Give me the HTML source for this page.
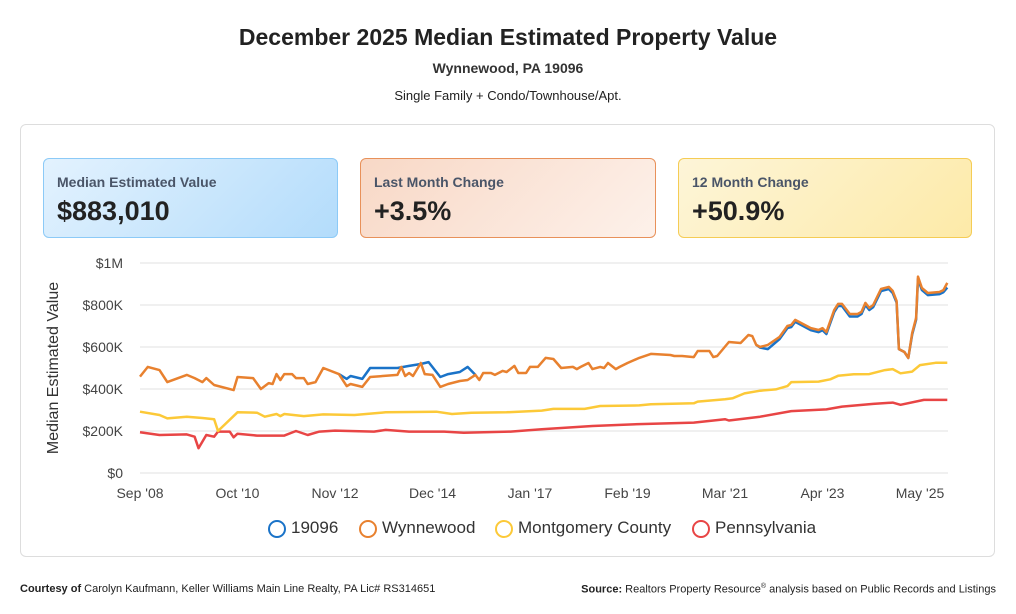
<!DOCTYPE html>
<html><head><meta charset="utf-8"><style>
body{margin:0;width:1016px;height:614px;background:#fff;font-family:"Liberation Sans",sans-serif;position:relative;overflow:hidden;color:#222}
.abs{position:absolute}
.card{position:absolute;top:158px;height:80px;border-radius:6px;box-sizing:border-box}
.card .lbl{position:absolute;left:13px;top:15px;font-size:14px;font-weight:bold;color:#4a5568}
.card .val{position:absolute;left:13px;top:37px;font-size:27px;font-weight:bold;color:#222}
</style></head><body>
<div class="abs" style="left:0;width:1016px;top:24px;text-align:center;font-size:23px;font-weight:bold;color:#222">December 2025 Median Estimated Property Value</div>
<div class="abs" style="left:0;width:1016px;top:60px;text-align:center;font-size:14px;font-weight:bold;color:#333">Wynnewood, PA 19096</div>
<div class="abs" style="left:0;width:1016px;top:88px;text-align:center;font-size:13px;color:#222">Single Family + Condo/Townhouse/Apt.</div>
<div class="abs" style="left:20px;top:124px;width:975px;height:433px;border:1px solid #ddd;border-radius:6px;box-sizing:border-box"></div>
<div class="card" style="left:43px;width:295px;background:linear-gradient(135deg,#e3f2fe,#b3dcfb);border:1px solid #8ccaf7"><div class="lbl">Median Estimated Value</div><div class="val">$883,010</div></div>
<div class="card" style="left:360px;width:296px;background:linear-gradient(135deg,#f8d8c6,#fdf1ea);border:1px solid #e8915a"><div class="lbl">Last Month Change</div><div class="val">+3.5%</div></div>
<div class="card" style="left:678px;width:294px;background:linear-gradient(135deg,#fdf5d8,#fdeaa8);border:1px solid #f5cc55"><div class="lbl">12 Month Change</div><div class="val">+50.9%</div></div>
<svg id="chart" class="abs" style="left:0;top:0" width="1016" height="614"></svg>
<div class="abs" style="left:0;width:1016px;top:518px;font-size:17px;color:#333">
<span class="abs" style="left:268px;top:2px;width:14px;height:14px;border:2px solid #1a73c8;border-radius:50%"></span><span class="abs" style="left:291px;top:0">19096</span>
<span class="abs" style="left:359px;top:2px;width:14px;height:14px;border:2px solid #e8812f;border-radius:50%"></span><span class="abs" style="left:382px;top:0">Wynnewood</span>
<span class="abs" style="left:495px;top:2px;width:14px;height:14px;border:2px solid #fcc938;border-radius:50%"></span><span class="abs" style="left:518px;top:0">Montgomery County</span>
<span class="abs" style="left:692px;top:2px;width:14px;height:14px;border:2px solid #e84545;border-radius:50%"></span><span class="abs" style="left:715px;top:0">Pennsylvania</span>
</div>
<div class="abs" style="left:20px;top:583px;font-size:11px;color:#222"><b>Courtesy of</b> Carolyn Kaufmann, Keller Williams Main Line Realty, PA Lic# RS314651</div>
<div class="abs" style="right:20px;top:583px;font-size:11px;color:#222"><b>Source:</b> Realtors Property Resource<sup style="font-size:7px">®</sup> analysis based on Public Records and Listings</div>
<script>
// months since Sep 2008
const xTickLabels=["Sep '08","Oct '10","Nov '12","Dec '14","Jan '17","Feb '19","Mar '21","Apr '23","May '25"];
const xTickMonths=[0,25,50,75,100,125,150,175,200];
const yTickValues=[0,200000,400000,600000,800000,1000000];
const yTickLabels=["$0","$200K","$400K","$600K","$800K","$1M"];
const wynMonths=[0,2,5,7,12,14,16,17,19,24,25,29,31,33,34,35,36,37,39,40,42,43,45,47,51,53,54,57,59,66,67,68,69,70,72,73,75,77,79,82,84,86,87,88,90,91,93,94,96,97,99,100,102,104,106,108,111,112,113,115,116,118,119,120,122,123,125,128,131,136,137,139,142,143,146,147,148,151,154,156,157,158,159,161,164,166,167,168,172,174,175,176,178,179,180,182,184,185,186,187,188,190,192,193,194,194.6,196,197,198,199,199.5,200.5,202,205,206,207];
const wynValues=[459,505,490,433,467,452,433,452,419,395,457,452,400,428,424,471,443,471,471,452,452,424,433,500,471,414,424,410,457,467,505,462,476,462,524,471,467,410,424,438,443,467,443,476,476,467,486,481,510,476,476,505,505,548,543,500,505,495,505,524,495,505,500,524,495,505,524,548,567,562,557,557,552,581,581,552,557,624,619,657,652,610,600,610,648,700,705,729,690,681,690,671,776,805,805,757,757,767,810,786,800,876,886,867,819,590,576,548,667,738,935,881,857,862,871,905];
const zipMonths=[51,53,54,57,59,66,69,72,74,77,79,82,84,86];
const zipValues=[471,448,462,448,500,500,510,519,528,457,471,481,505,467];
const zip2Months=[158,159,161,164,166,167,168,172,174,175,176,178,179,180,182,184,185,186,187,188,190,192,193,194,194.6,196,197,198,199,199.5,200.5,202,205,206,207];
const zip2Values=[610,597,590,638,690,695,720,680,671,680,662,766,795,795,745,745,757,800,776,790,866,876,857,812,590,576,548,660,730,925,871,847,852,861,883];
const mcMonths=[0,5,7,12,16,19,20,25,30,32,35,36,37,42,47,55,63,76,80,85,94,103,106,114,118,128,131,142,143,150,152,155,159,163,166,167,174,177,179,183,187,191,193,195,198,200,204,207];
const mcValues=[292,276,260,268,262,256,200,289,287,268,281,271,281,271,279,276,289,292,281,287,289,297,305,305,319,322,327,332,340,351,356,379,392,398,414,433,435,446,463,470,471,490,495,475,483,514,525,525];
const paMonths=[0,5,12,14,15,17,19,20,23,24,25,30,37,40,43,46,50,60,63,69,78,83,95,103,116,128,142,150,151,159,167,176,180,188,193,195,201,207];
const paValues=[194,181,184,173,118,181,173,197,197,170,187,178,178,200,181,197,202,197,205,197,197,192,197,208,224,233,240,256,250,268,295,303,316,329,335,325,348,348];

const svg=document.getElementById('chart');const NS='http://www.w3.org/2000/svg';
const X0=140,XS=3.9,Y0=473,YS=210/1000000;
const xs=m=>X0+m*XS; const ys=v=>Y0-v*YS;
function el(t,a){const e=document.createElementNS(NS,t);for(const k in a)e.setAttribute(k,a[k]);svg.appendChild(e);return e;}
yTickValues.forEach((v,i)=>{
 const g=el('line',{x1:140,x2:948,y1:ys(v),y2:ys(v),stroke:'#e2e2e2','stroke-width':1});
 
 
 const t=el('text',{x:123,y:ys(v)+5,'text-anchor':'end','font-size':14,fill:'#444','font-family':'Liberation Sans, sans-serif'});
 t.textContent=yTickLabels[i];
 
 
});
xTickMonths.forEach((m,i)=>{
 const t=el('text',{x:xs(m),y:498,'text-anchor':'middle','font-size':14,fill:'#444','font-family':'Liberation Sans, sans-serif'});
 t.textContent=xTickLabels[i];
 
 
});
const yt=el('text',{x:0,y:0,transform:'translate(58,368) rotate(-90)','text-anchor':'middle','font-size':16,fill:'#333','font-family':'Liberation Sans, sans-serif'});
yt.textContent='Median Estimated Value';


function line(ms,vs,color,name){
 const d=ms.map((m,i)=>(i?'L':'M')+xs(m).toFixed(1)+','+ys(vs[i]*1000).toFixed(1)).join(' ');
 const p=el('path',{d:d,fill:'none',stroke:color,'stroke-width':2.5,'stroke-linejoin':'round'});
 
 
}
line(paMonths,paValues,'#e84545','series-pennsylvania');
line(mcMonths,mcValues,'#fcc938','series-montgomery-county');
line(zipMonths,zipValues,'#1a73c8','series-19096-a');
line(zip2Months,zip2Values,'#1a73c8','series-19096-b');
line(wynMonths,wynValues,'#e8812f','series-wynnewood');
</script>
</body></html>
